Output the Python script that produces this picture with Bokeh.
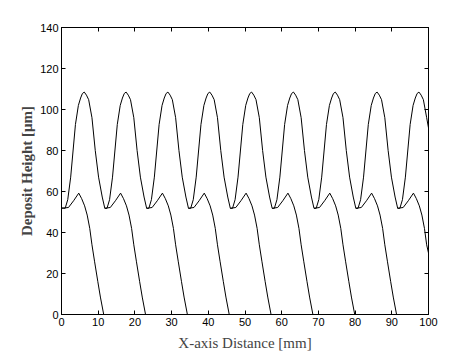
from bokeh.plotting import figure
from bokeh.models import LinearAxis, Range1d, FixedTicker
from bokeh.embed import file_html
from bokeh.resources import INLINE

# Upper deposit profile (x in mm, height in um)
upper_x = [0.0, 1.0, 1.7, 2.5, 3.8, 4.6, 5.2, 5.7, 6.2, 6.8, 7.4, 8.3, 9.2, 10.1, 11.1, 11.8,
           12.4, 13.1, 13.9, 15.2, 16.0, 16.6, 17.1, 17.6, 18.2, 18.8, 19.7, 20.6, 21.5, 22.5, 23.2,
           23.8, 24.5, 25.3, 26.6, 27.4, 28.0, 28.5, 29.0, 29.6, 30.2, 31.1, 32.0, 32.9, 33.9, 34.6,
           35.2, 35.9, 36.7, 38.0, 38.8, 39.4, 39.9, 40.4, 41.0, 41.6, 42.5, 43.4, 44.3, 45.3, 46.0,
           46.6, 47.3, 48.1, 49.4, 50.2, 50.8, 51.3, 51.8, 52.4, 53.0, 53.9, 54.8, 55.7, 56.7, 57.4,
           58.0, 58.7, 59.5, 60.8, 61.6, 62.2, 62.7, 63.2, 63.8, 64.4, 65.3, 66.2, 67.1, 68.1, 68.8,
           69.4, 70.1, 70.9, 72.2, 73.0, 73.6, 74.1, 74.6, 75.2, 75.8, 76.7, 77.6, 78.5, 79.5, 80.2,
           80.8, 81.5, 82.3, 83.6, 84.4, 85.0, 85.5, 86.0, 86.6, 87.2, 88.1, 89.0, 89.9, 90.9, 91.6,
           92.2, 92.9, 93.7, 95.0, 95.8, 96.4, 96.9, 97.4, 98.0, 98.6, 99.5, 100.0]
upper_y = [52.0, 51.8, 56, 67, 92.7, 102, 105.6, 107.8, 108.5, 107, 104.8, 96, 80, 67, 57.3, 51.8,
           51.8, 56, 67, 92.7, 102, 105.6, 107.8, 108.5, 107, 104.8, 96, 80, 67, 57.3, 51.8,
           51.8, 56, 67, 92.7, 102, 105.6, 107.8, 108.5, 107, 104.8, 96, 80, 67, 57.3, 51.8,
           51.8, 56, 67, 92.7, 102, 105.6, 107.8, 108.5, 107, 104.8, 96, 80, 67, 57.3, 51.8,
           51.8, 56, 67, 92.7, 102, 105.6, 107.8, 108.5, 107, 104.8, 96, 80, 67, 57.3, 51.8,
           51.8, 56, 67, 92.7, 102, 105.6, 107.8, 108.5, 107, 104.8, 96, 80, 67, 57.3, 51.8,
           51.8, 56, 67, 92.7, 102, 105.6, 107.8, 108.5, 107, 104.8, 96, 80, 67, 57.3, 51.8,
           51.8, 56, 67, 92.7, 102, 105.6, 107.8, 108.5, 107, 104.8, 96, 80, 67, 57.3, 51.8,
           51.8, 56, 67, 92.7, 102, 105.6, 107.8, 108.5, 107, 104.8, 96, 91]

# Lower (leading-edge) profiles, one segment per pass
lower_x = [
    [0.0, 1.9, 3.3, 4.7, 5.5, 6.3, 7.0, 7.7, 8.3, 9.0, 9.9, 10.6, 11.5],
    [11.8, 13.3, 14.7, 16.1, 16.9, 17.7, 18.4, 19.1, 19.7, 20.4, 21.3, 22.0, 22.9],
    [23.2, 24.7, 26.1, 27.5, 28.3, 29.1, 29.8, 30.5, 31.1, 31.8, 32.7, 33.4, 34.3],
    [34.6, 36.1, 37.5, 38.9, 39.7, 40.5, 41.2, 41.9, 42.5, 43.2, 44.1, 44.8, 45.7],
    [46.0, 47.5, 48.9, 50.3, 51.1, 51.9, 52.6, 53.3, 53.9, 54.6, 55.5, 56.2, 57.1],
    [57.4, 58.9, 60.3, 61.7, 62.5, 63.3, 64.0, 64.7, 65.3, 66.0, 66.9, 67.6, 68.5],
    [68.8, 70.3, 71.7, 73.1, 73.9, 74.7, 75.4, 76.1, 76.7, 77.4, 78.3, 79.0, 79.9],
    [80.2, 81.7, 83.1, 84.5, 85.3, 86.1, 86.8, 87.5, 88.1, 88.8, 89.7, 90.4, 91.3],
    [91.6, 93.1, 94.5, 95.9, 96.7, 97.5, 98.2, 98.9, 99.5, 100.0],
]
lower_y = [
    [51.8, 52.2, 55.5, 59.2, 56.5, 53, 48.5, 42, 34, 26, 16, 8.5, 0],
    [51.8, 52.2, 55.5, 59.2, 56.5, 53, 48.5, 42, 34, 26, 16, 8.5, 0],
    [51.8, 52.2, 55.5, 59.2, 56.5, 53, 48.5, 42, 34, 26, 16, 8.5, 0],
    [51.8, 52.2, 55.5, 59.2, 56.5, 53, 48.5, 42, 34, 26, 16, 8.5, 0],
    [51.8, 52.2, 55.5, 59.2, 56.5, 53, 48.5, 42, 34, 26, 16, 8.5, 0],
    [51.8, 52.2, 55.5, 59.2, 56.5, 53, 48.5, 42, 34, 26, 16, 8.5, 0],
    [51.8, 52.2, 55.5, 59.2, 56.5, 53, 48.5, 42, 34, 26, 16, 8.5, 0],
    [51.8, 52.2, 55.5, 59.2, 56.5, 53, 48.5, 42, 34, 26, 16, 8.5, 0],
    [51.8, 52.2, 55.5, 59.2, 56.5, 53, 48.5, 42, 34, 30],
]

x_ticks = [0, 10, 20, 30, 40, 50, 60, 70, 80, 90, 100]
y_ticks = [0, 20, 40, 60, 80, 100, 120, 140]

p = figure(width=458, height=353, output_backend="svg", toolbar_location=None,
           x_range=Range1d(0, 100), y_range=Range1d(0, 140),
           min_border_left=61, min_border_right=30, min_border_top=27, min_border_bottom=36)
p.background_fill_color = "white"
p.border_fill_color = "white"
p.outline_line_color = "black"
p.outline_line_width = 1
p.grid.visible = False

p.line(upper_x, upper_y, line_color="black", line_width=1)
p.multi_line(lower_x, lower_y, line_color="black", line_width=1)

def style(ax):
    ax.major_tick_in = 4
    ax.major_tick_out = 0
    ax.minor_tick_line_color = None
    ax.axis_line_color = "black"
    ax.major_tick_line_color = "black"
    ax.major_label_text_font = "Liberation Sans"
    ax.major_label_text_font_size = "11px"
    ax.major_label_text_color = "black"
    ax.major_label_standoff = 3

xa = p.xaxis[0]
ya = p.yaxis[0]
xa.ticker = FixedTicker(ticks=x_ticks)
ya.ticker = FixedTicker(ticks=y_ticks)
style(xa)
style(ya)
xa.axis_label = "X-axis Distance [mm]"
xa.axis_label_text_font = "Liberation Serif"
xa.axis_label_text_font_size = "15px"
xa.axis_label_text_font_style = "normal"
xa.axis_label_standoff = 6
ya.axis_label = "Deposit Height [\u03bcm]"
ya.axis_label_text_font = "Liberation Serif"
ya.axis_label_text_font_size = "15px"
ya.axis_label_text_font_style = "bold"
ya.axis_label_standoff = 2

# box axes (ticks only, like the original's closed frame)
top = LinearAxis(ticker=FixedTicker(ticks=x_ticks), major_label_text_color=None,
                 major_label_text_font_size="0px", major_label_standoff=0,
                 major_label_overrides={t: "" for t in x_ticks})
right = LinearAxis(ticker=FixedTicker(ticks=y_ticks), major_label_text_color=None,
                   major_label_text_font_size="0px", major_label_standoff=0,
                   major_label_overrides={t: "" for t in y_ticks})
for ax in (top, right):
    ax.major_tick_in = 4
    ax.major_tick_out = 0
    ax.minor_tick_line_color = None
    ax.axis_line_color = "black"
    ax.major_tick_line_color = "black"
p.add_layout(top, "above")
p.add_layout(right, "right")

open("out.html", "w").write(file_html(p, INLINE))
